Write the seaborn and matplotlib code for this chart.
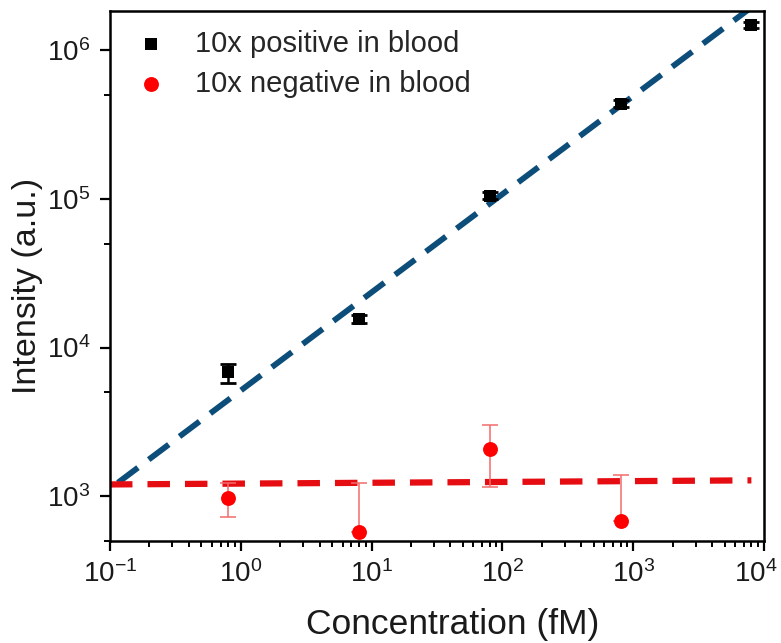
import matplotlib
matplotlib.use("Agg")
import matplotlib.pyplot as plt
from matplotlib.ticker import LogLocator, NullFormatter
from matplotlib.transforms import ScaledTranslation
import seaborn as sns
import numpy as np
import pandas as pd

# concentrations (fM)
conc = [0.8, 8, 80, 800, 8000]

# 10x positive in blood
pos_mean = [6800, 15600, 105000, 437000, 1476000]
pos_err = [1000, 900, 6000, 25000, 70000]

# 10x negative in blood (lower error clipped on log axis)
neg_conc = [0.8, 8, 80, 800]
neg_mean = [975, 575, 2075, 685]
neg_err_low = [245, 0, 925, 0]
neg_err_high = [245, 645, 940, 700]

# fitted lines (log-log): log10(y) = a + b*log10(x)
pos_fit_a, pos_fit_b = 3.711, 0.66
neg_fit_a, neg_fit_b = 3.085, 0.0056
pos_fit_range = (0.115, 8000)
neg_fit_range = (0.1, 8000)

sns.set_theme(style="ticks")
plt.rcParams['font.family'] = ['Liberation Sans', 'DejaVu Sans']
plt.rcParams['mathtext.fontset'] = 'custom'
plt.rcParams['mathtext.rm'] = 'Liberation Sans'
plt.rcParams['mathtext.it'] = 'Liberation Sans'
plt.rcParams['axes.unicode_minus'] = False

fig = plt.figure(figsize=(7.81, 6.43), dpi=100)
ax = fig.add_axes([0.1408, 0.1586, 0.8375, 0.8243])

# fit lines
xf = np.logspace(np.log10(pos_fit_range[0]), np.log10(pos_fit_range[1]), 200)
fit_pos = pd.DataFrame({'x': xf, 'y': 10 ** (pos_fit_a + pos_fit_b * np.log10(xf))})
xn = np.logspace(np.log10(neg_fit_range[0]), np.log10(neg_fit_range[1]), 200)
fit_neg = pd.DataFrame({'x': xn, 'y': 10 ** (neg_fit_a + neg_fit_b * np.log10(xn))})

sns.lineplot(data=fit_pos, x='x', y='y', ax=ax, color='#0d4d7a', lw=4.2,
             linestyle=(0, (4.3, 2.3)), zorder=2)
sns.lineplot(data=fit_neg, x='x', y='y', ax=ax, color='#e50d12', lw=4.5,
             linestyle=(0, (3.6, 2.4)), zorder=2)

# error bars
ax.errorbar(conc, pos_mean, yerr=pos_err, fmt='none', ecolor='black',
            elinewidth=1.8, capsize=6, capthick=2.0, zorder=3)
ax.errorbar(neg_conc, neg_mean, yerr=[neg_err_low, neg_err_high], fmt='none',
            ecolor='#f36b6b', elinewidth=1.1, capsize=6, capthick=1.1, zorder=3)

# points
sns.scatterplot(x=conc, y=pos_mean, ax=ax, marker='s', color='black', s=80,
                edgecolor='black', linewidth=0, label='10x positive in blood', zorder=4)
sns.scatterplot(x=neg_conc, y=neg_mean, ax=ax, marker='o', color='#ff0000', s=115,
                edgecolor='#ff0000', linewidth=0, label='10x negative in blood', zorder=4)

ax.set_xscale('log')
ax.set_yscale('log')
ax.set_xlim(0.1, 10000)
ax.set_ylim(500, 1.83e6)

ax.xaxis.set_major_locator(LogLocator(base=10, numticks=10))
ax.xaxis.set_minor_locator(LogLocator(base=10, subs=np.arange(2, 10), numticks=20))
ax.xaxis.set_minor_formatter(NullFormatter())
ax.yaxis.set_major_locator(LogLocator(base=10, numticks=10))
ax.yaxis.set_minor_locator(LogLocator(base=10, subs=[5], numticks=20))
ax.yaxis.set_minor_formatter(NullFormatter())

ax.tick_params(which='major', direction='out', length=7, width=1.6,
               labelsize=20, color='black', labelcolor='#1a1a1a', pad=7)
ax.tick_params(which='minor', direction='out', length=4.5, width=1.4, color='black')
ax.tick_params(top=False, right=False, which='both')

for s in ax.spines.values():
    s.set_linewidth(1.8)
    s.set_color('black')

ax.set_xlabel('Concentration (fM)', fontsize=25.5, color='#1a1a1a')
ax.set_ylabel('Intensity (a.u.)', fontsize=24.5, color='#1a1a1a')
ax.xaxis.set_label_coords(0.5245, -0.126)
ax.yaxis.set_label_coords(-0.1024, 0.482)

ax.legend(loc='upper left', frameon=False, fontsize=21, handlelength=1.0,
          handletextpad=1.0, borderaxespad=0.4, labelspacing=0.4,
          bbox_to_anchor=(0.005, 1.008))

# keep the last x tick label inside the figure
fig.canvas.draw()
for loc, tick in zip(ax.xaxis.get_majorticklocs(), ax.xaxis.get_major_ticks()):
    if np.isclose(loc, 1e4):
        lab = tick.label1
        lab.set_transform(lab.get_transform() + ScaledTranslation(-6 / 72, 0, fig.dpi_scale_trans))

fig.savefig('out.png', dpi=100)
